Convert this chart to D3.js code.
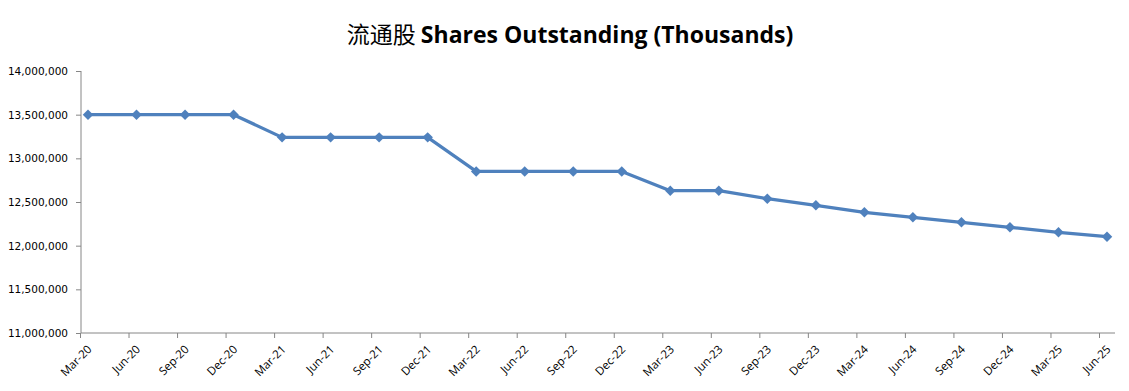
<!DOCTYPE html>
<html>
<head>
<meta charset="utf-8">
<script src="https://cdn.jsdelivr.net/npm/d3@7"></script>
<style>
  body { margin: 0; background: #fff; }
  #chart { width: 1129px; height: 391px; }
  .axis path, .axis line { stroke: #868686; }
  .axis text { font-family: Tahoma, "DejaVu Sans", sans-serif; font-size: 10.5px; fill: #000; }
  .xaxis text { font-family: "Open Sans", sans-serif; font-size: 11.5px; }
</style>
</head>
<body>
<div id="chart"></div>
<script>
const quarters = ["Mar-20","Jun-20","Sep-20","Dec-20","Mar-21","Jun-21","Sep-21","Dec-21",
  "Mar-22","Jun-22","Sep-22","Dec-22","Mar-23","Jun-23","Sep-23","Dec-23",
  "Mar-24","Jun-24","Sep-24","Dec-24","Mar-25","Jun-25"];
const shares = [13500000,13500000,13500000,13500000,13240000,13240000,13240000,13240000,
  12850000,12850000,12850000,12850000,12630000,12630000,12538000,12462000,
  12382000,12325000,12268000,12210000,12153000,12103000];
const yTicks = [11000000,11500000,12000000,12500000,13000000,13500000,14000000];

document.addEventListener("DOMContentLoaded", () => {
  const width = 1129, height = 391;
  const svg = d3.select("#chart").append("svg")
    .attr("width", width).attr("height", height);

  const xScale = d3.scalePoint()
    .domain(quarters)
    .range([88, 1107]);
  const tickShift = -8;

  const yScale = d3.scaleLinear()
    .domain([11000000, 14000000])
    .range([333, 71]);

  // title
  const title = svg.append("text")
    .attr("x", 570)
    .attr("y", 43)
    .attr("text-anchor", "middle")
    .style("font-weight", "bold")
    .style("font-size", "23px");
  title.append("tspan")
    .style("font-family", "'Noto Sans CJK SC', sans-serif")
    .style("font-weight", "normal")
    .text("流通股 ");
  title.append("tspan")
    .style("font-family", "'Open Sans', sans-serif")
    .text("Shares Outstanding (Thousands)");

  // y axis
  const yAxis = d3.axisLeft(yScale)
    .tickValues(yTicks)
    .tickSize(5)
    .tickPadding(8)
    .tickFormat(d3.format(","));
  svg.append("g")
    .attr("class", "axis")
    .attr("transform", "translate(81,0)")
    .call(yAxis)
    .call(g => g.select(".domain").attr("d", "M0,71V333"));

  // x axis
  const xAxis = d3.axisBottom(xScale)
    .tickSize(5)
    .tickSizeOuter(0);
  const xg = svg.append("g")
    .attr("class", "axis xaxis")
    .attr("transform", "translate(0,333)")
    .call(xAxis);
  xg.select(".domain").attr("d", "M81,0H1115");
  xg.selectAll(".tick line").attr("transform", `translate(${tickShift},0)`);
  xg.selectAll(".tick text")
    .attr("text-anchor", "end")
    .attr("dy", null)
    .attr("transform", "translate(4,17) rotate(-45)")
    .attr("y", 0)
    .attr("x", 0);

  // line
  const line = d3.line()
    .x((d, i) => xScale(quarters[i]))
    .y(d => yScale(d));
  svg.append("path")
    .datum(shares)
    .attr("fill", "none")
    .attr("stroke", "#4F81BD")
    .attr("stroke-width", 3.25)
    .attr("stroke-linejoin", "round")
    .attr("d", line);

  // diamond markers
  svg.selectAll(".marker")
    .data(shares)
    .enter()
    .append("path")
    .attr("class", "marker")
    .attr("d", d3.symbol().type(d3.symbolDiamond2).size(70))
    .attr("transform", (d, i) => `translate(${xScale(quarters[i])},${yScale(d)})`)
    .attr("fill", "#4F81BD");
});
</script>
</body>
</html>
